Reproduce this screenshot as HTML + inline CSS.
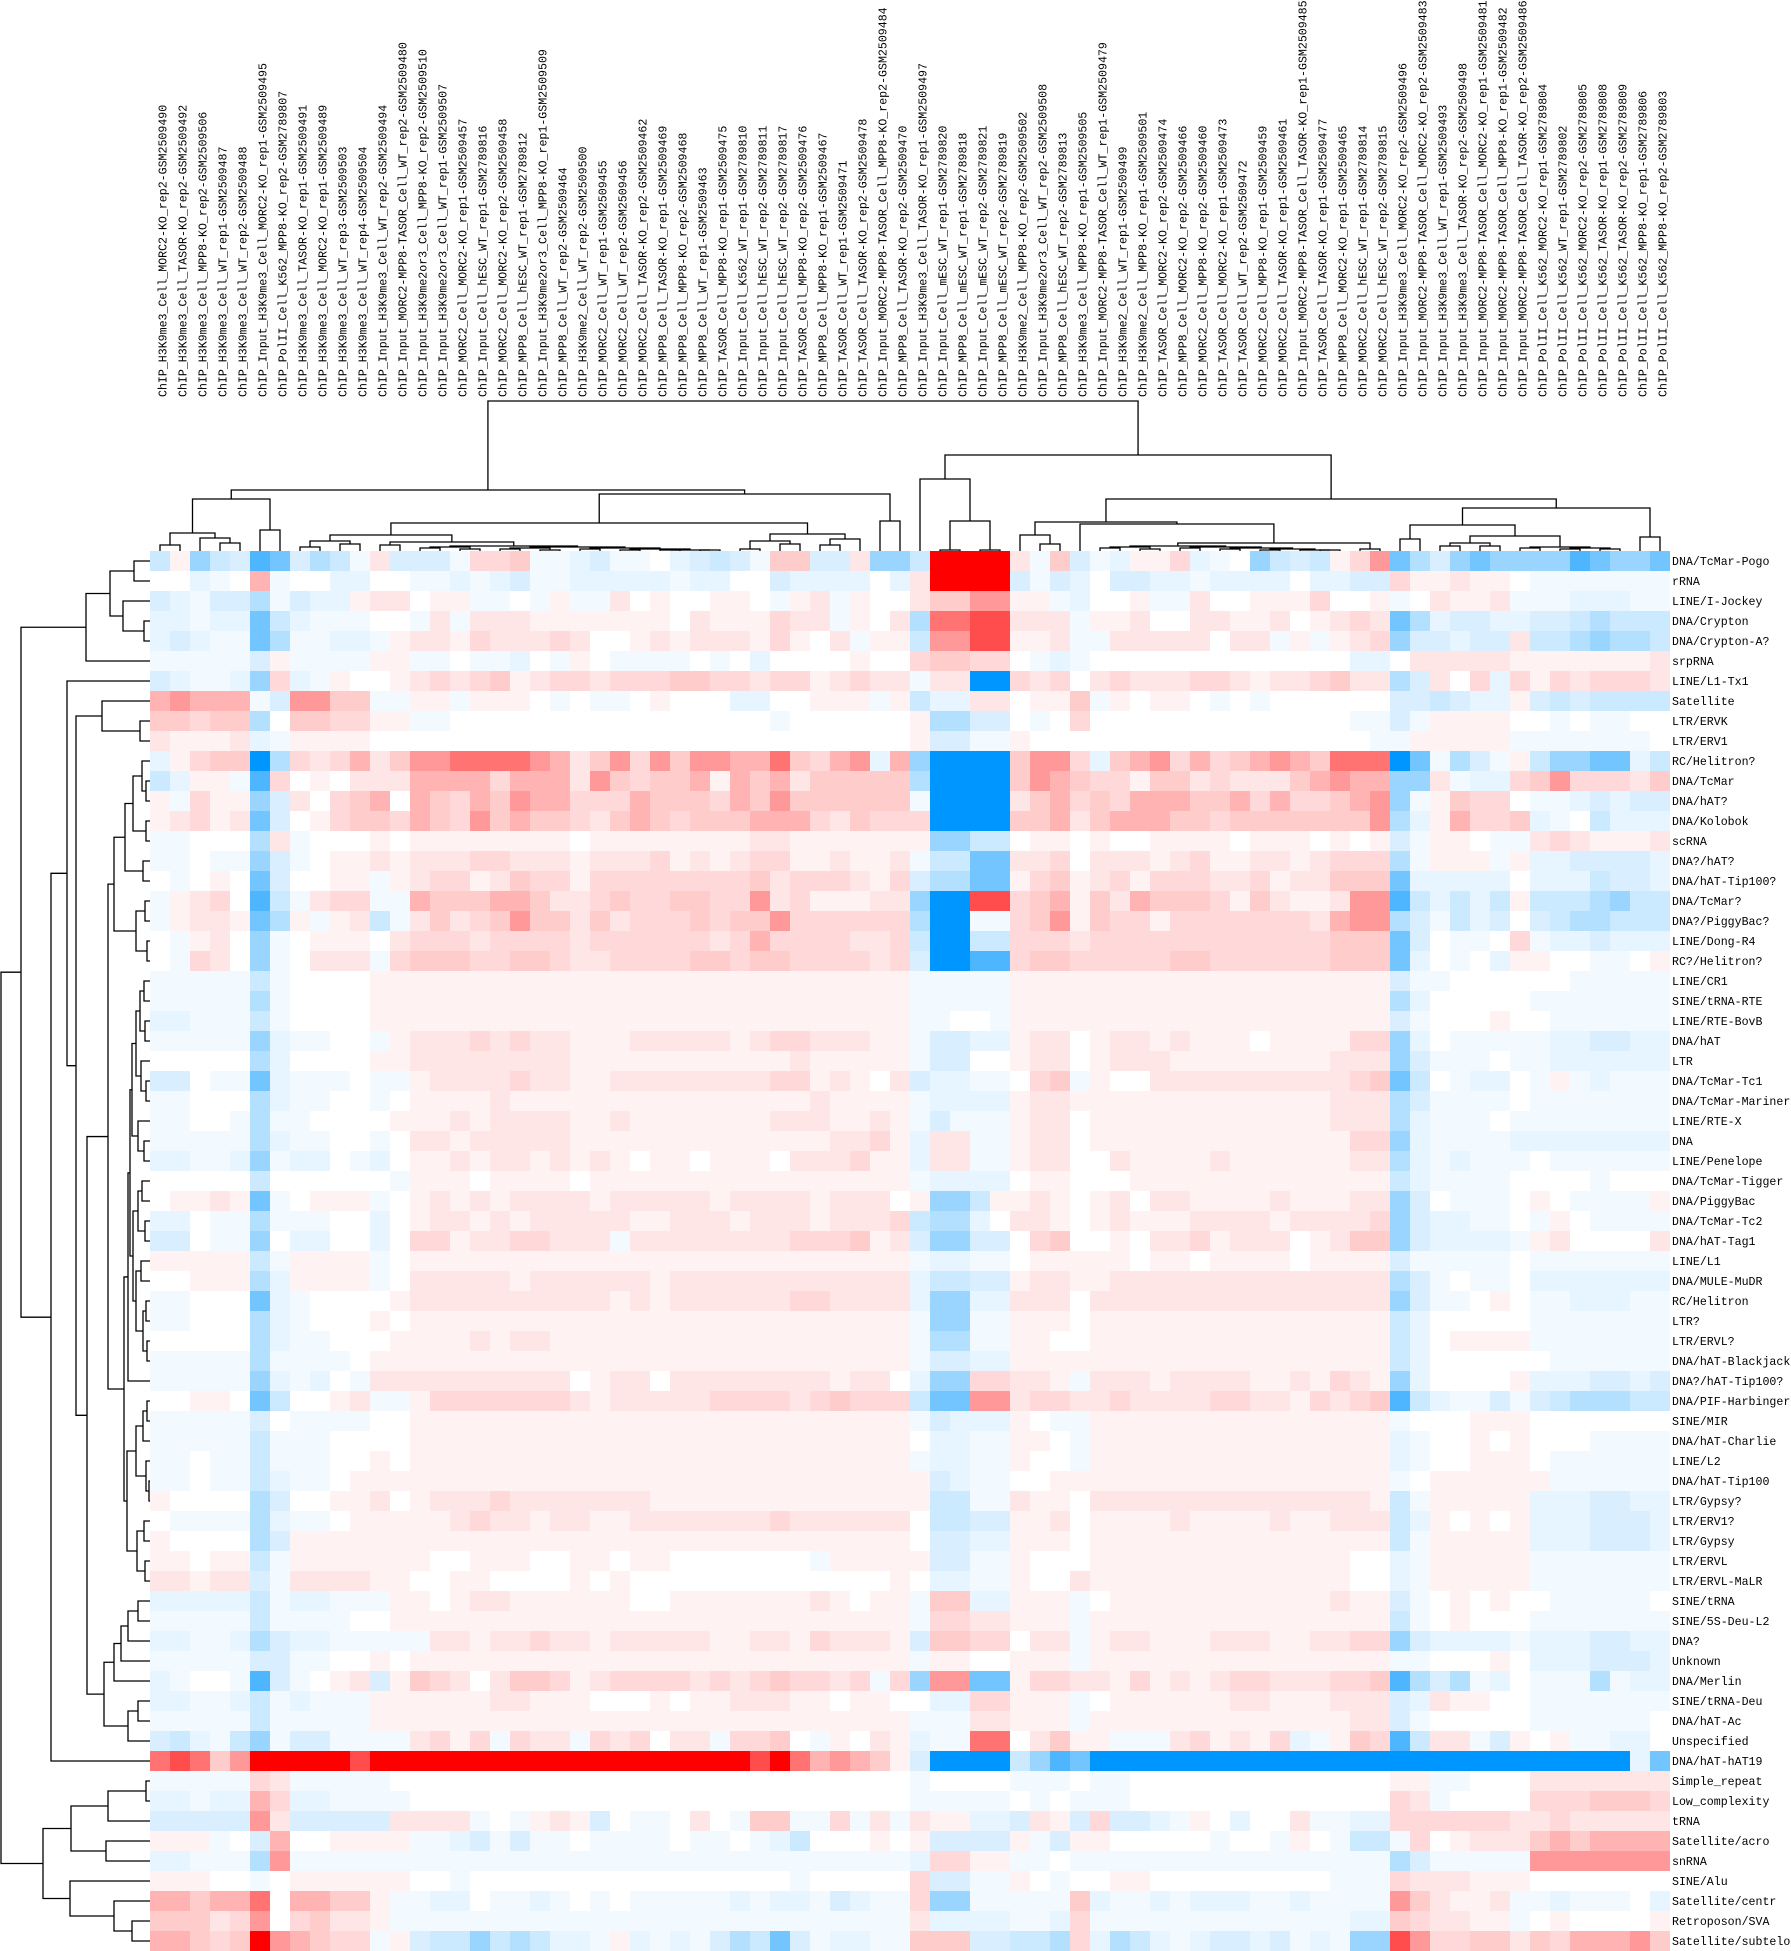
<!DOCTYPE html>
<html><head><meta charset="utf-8"><style>
html,body{margin:0;padding:0;background:#fff;}
svg{display:block;}
text{font-family:"Liberation Mono",monospace;font-size:11.6px;fill:#000;}
</style></head><body>
<svg id="chart" width="1791" height="1951" viewBox="0 0 1791 1951" xmlns="http://www.w3.org/2000/svg">
<g id="cells" shape-rendering="crispEdges"></g>
<g id="coldendro" fill="none" stroke="#000" stroke-width="1.3"></g>
<g id="rowdendro" fill="none" stroke="#000" stroke-width="1.3"></g>
<g id="collabels"></g>
<g id="rowlabels"></g>
</svg>
<script>
const columnLabels = ["ChIP_H3K9me3_Cell_MORC2-KO_rep2-GSM2509490","ChIP_H3K9me3_Cell_TASOR-KO_rep2-GSM2509492","ChIP_H3K9me3_Cell_MPP8-KO_rep2-GSM2509506","ChIP_H3K9me3_Cell_WT_rep1-GSM2509487","ChIP_H3K9me3_Cell_WT_rep2-GSM2509488","ChIP_Input_H3K9me3_Cell_MORC2-KO_rep1-GSM2509495","ChIP_PolII_Cell_K562_MPP8-KO_rep2-GSM2789807","ChIP_H3K9me3_Cell_TASOR-KO_rep1-GSM2509491","ChIP_H3K9me3_Cell_MORC2-KO_rep1-GSM2509489","ChIP_H3K9me3_Cell_WT_rep3-GSM2509503","ChIP_H3K9me3_Cell_WT_rep4-GSM2509504","ChIP_Input_H3K9me3_Cell_WT_rep2-GSM2509494","ChIP_Input_MORC2-MPP8-TASOR_Cell_WT_rep2-GSM2509480","ChIP_Input_H3K9me2or3_Cell_MPP8-KO_rep2-GSM2509510","ChIP_Input_H3K9me2or3_Cell_WT_rep1-GSM2509507","ChIP_MORC2_Cell_MORC2-KO_rep1-GSM2509457","ChIP_Input_Cell_hESC_WT_rep1-GSM2789816","ChIP_MORC2_Cell_MORC2-KO_rep2-GSM2509458","ChIP_MPP8_Cell_hESC_WT_rep1-GSM2789812","ChIP_Input_H3K9me2or3_Cell_MPP8-KO_rep1-GSM2509509","ChIP_MPP8_Cell_WT_rep2-GSM2509464","ChIP_H3K9me2_Cell_WT_rep2-GSM2509500","ChIP_MORC2_Cell_WT_rep1-GSM2509455","ChIP_MORC2_Cell_WT_rep2-GSM2509456","ChIP_MORC2_Cell_TASOR-KO_rep2-GSM2509462","ChIP_MPP8_Cell_TASOR-KO_rep1-GSM2509469","ChIP_MPP8_Cell_MPP8-KO_rep2-GSM2509468","ChIP_MPP8_Cell_WT_rep1-GSM2509463","ChIP_TASOR_Cell_MPP8-KO_rep1-GSM2509475","ChIP_Input_Cell_K562_WT_rep1-GSM2789810","ChIP_Input_Cell_hESC_WT_rep2-GSM2789811","ChIP_Input_Cell_hESC_WT_rep2-GSM2789817","ChIP_TASOR_Cell_MPP8-KO_rep2-GSM2509476","ChIP_MPP8_Cell_MPP8-KO_rep1-GSM2509467","ChIP_TASOR_Cell_WT_rep1-GSM2509471","ChIP_TASOR_Cell_TASOR-KO_rep2-GSM2509478","ChIP_Input_MORC2-MPP8-TASOR_Cell_MPP8-KO_rep2-GSM2509484","ChIP_MPP8_Cell_TASOR-KO_rep2-GSM2509470","ChIP_Input_H3K9me3_Cell_TASOR-KO_rep1-GSM2509497","ChIP_Input_Cell_mESC_WT_rep1-GSM2789820","ChIP_MPP8_Cell_mESC_WT_rep1-GSM2789818","ChIP_Input_Cell_mESC_WT_rep2-GSM2789821","ChIP_MPP8_Cell_mESC_WT_rep2-GSM2789819","ChIP_H3K9me2_Cell_MPP8-KO_rep2-GSM2509502","ChIP_Input_H3K9me2or3_Cell_WT_rep2-GSM2509508","ChIP_MPP8_Cell_hESC_WT_rep2-GSM2789813","ChIP_H3K9me3_Cell_MPP8-KO_rep1-GSM2509505","ChIP_Input_MORC2-MPP8-TASOR_Cell_WT_rep1-GSM2509479","ChIP_H3K9me2_Cell_WT_rep1-GSM2509499","ChIP_H3K9me2_Cell_MPP8-KO_rep1-GSM2509501","ChIP_TASOR_Cell_MORC2-KO_rep2-GSM2509474","ChIP_MPP8_Cell_MORC2-KO_rep2-GSM2509466","ChIP_MORC2_Cell_MPP8-KO_rep2-GSM2509460","ChIP_TASOR_Cell_MORC2-KO_rep1-GSM2509473","ChIP_TASOR_Cell_WT_rep2-GSM2509472","ChIP_MORC2_Cell_MPP8-KO_rep1-GSM2509459","ChIP_MORC2_Cell_TASOR-KO_rep1-GSM2509461","ChIP_Input_MORC2-MPP8-TASOR_Cell_TASOR-KO_rep1-GSM2509485","ChIP_TASOR_Cell_TASOR-KO_rep1-GSM2509477","ChIP_MPP8_Cell_MORC2-KO_rep1-GSM2509465","ChIP_MORC2_Cell_hESC_WT_rep1-GSM2789814","ChIP_MORC2_Cell_hESC_WT_rep2-GSM2789815","ChIP_Input_H3K9me3_Cell_MORC2-KO_rep2-GSM2509496","ChIP_Input_MORC2-MPP8-TASOR_Cell_MORC2-KO_rep2-GSM2509483","ChIP_Input_H3K9me3_Cell_WT_rep1-GSM2509493","ChIP_Input_H3K9me3_Cell_TASOR-KO_rep2-GSM2509498","ChIP_Input_MORC2-MPP8-TASOR_Cell_MORC2-KO_rep1-GSM2509481","ChIP_Input_MORC2-MPP8-TASOR_Cell_MPP8-KO_rep1-GSM2509482","ChIP_Input_MORC2-MPP8-TASOR_Cell_TASOR-KO_rep2-GSM2509486","ChIP_PolII_Cell_K562_MORC2-KO_rep1-GSM2789804","ChIP_PolII_Cell_K562_WT_rep1-GSM2789802","ChIP_PolII_Cell_K562_MORC2-KO_rep2-GSM2789805","ChIP_PolII_Cell_K562_TASOR-KO_rep1-GSM2789808","ChIP_PolII_Cell_K562_TASOR-KO_rep2-GSM2789809","ChIP_PolII_Cell_K562_MPP8-KO_rep1-GSM2789806","ChIP_PolII_Cell_K562_MPP8-KO_rep2-GSM2789803"];

const rowLabels = ["DNA/TcMar-Pogo","rRNA","LINE/I-Jockey","DNA/Crypton","DNA/Crypton-A?","srpRNA","LINE/L1-Tx1","Satellite","LTR/ERVK","LTR/ERV1","RC/Helitron?","DNA/TcMar","DNA/hAT?","DNA/Kolobok","scRNA","DNA?/hAT?","DNA/hAT-Tip100?","DNA/TcMar?","DNA?/PiggyBac?","LINE/Dong-R4","RC?/Helitron?","LINE/CR1","SINE/tRNA-RTE","LINE/RTE-BovB","DNA/hAT","LTR","DNA/TcMar-Tc1","DNA/TcMar-Mariner","LINE/RTE-X","DNA","LINE/Penelope","DNA/TcMar-Tigger","DNA/PiggyBac","DNA/TcMar-Tc2","DNA/hAT-Tag1","LINE/L1","DNA/MULE-MuDR","RC/Helitron","LTR?","LTR/ERVL?","DNA/hAT-Blackjack","DNA?/hAT-Tip100?","DNA/PIF-Harbinger","SINE/MIR","DNA/hAT-Charlie","LINE/L2","DNA/hAT-Tip100","LTR/Gypsy?","LTR/ERV1?","LTR/Gypsy","LTR/ERVL","LTR/ERVL-MaLR","SINE/tRNA","SINE/5S-Deu-L2","DNA?","Unknown","DNA/Merlin","SINE/tRNA-Deu","DNA/hAT-Ac","Unspecified","DNA/hAT-hAT19","Simple_repeat","Low_complexity","tRNA","Satellite/acro","snRNA","SINE/Alu","Satellite/centr","Retroposon/SVA","Satellite/subtelo"];

// value codes: '0' = 0; A..I = positive levels 1..9; a..i = negative levels 1..9
const levelValues = [0, 0.05, 0.1, 0.15, 0.2, 0.3, 0.4, 0.55, 0.7, 1.0];

// left half = columns 1-38, right half = columns 39-76
const valuesLeft = [
"dAfdchgcedaBcccaCCDaabcaa0bcdcaDDccBff","00ba0Ea00bb00aababcaabbbbbabb00cbbbb0b","cbacceacbbABB0AAaa0aAaaB0A00AA0aABaA00","bbabbgdbaaa00aBaBBBAAAAAAA0BAAACBBaA0B","bcbaageaabbaABBACBBBCB00ABABBBACA0BaAA","aaaaacAaaaaAAaa0aab0aA0aaaa0a0b0000A00","cbaabfCbaA00ABCBCDABCCBCCCDDCCBCCABCBB","EFEEEacFFDDaaAAaAAA0a0aa0A000bb00AAAaA","DDCDDe0DDCCAAaa0000000000000000a000000","BAAABbaAAAA000000000000000000000000000",
"bACDDieCBCEBDFFGGGGFEBDFCFDFFEEGDCEFbE","dbAAahC0A0BBBEEEECEEEBFDCDDEAEDEBDDDDD","AaCAAfcB0CDE0EDCEDFEECCCEDDDCEDFDDDDDD","ABCABgc0ACDDCEDCFDEDDCBDEDCDDDEEECBDCC","aa000eBa000A0AAAAAAAA0AAAAAAAABBAAAAAA","aa0aafca0AABABBBCCBBBABBBCABABCCAABAAB","0a0A0gc00AAaABCCABDCCACCCCCCCCDBCCCBAC","aABC0hdaBCCaaEDDDEEDBBCDCCDDCCFBCAAABB","aABBAgeAaABdaBDBCDFDDBDBCCCDCDDFCCCCCC","0aAB0fa0AAA0BCCCBCCCCBCCCCCCBCECCCCBBC",
"0aCB0fa0BBBaCDDDCCDDCBBCCCCDDCDDCCCCBC","aaaaada0000AAAAAAAAAAAAAAAAAAAAAAAAAAA","aaaaaea0000AAAAAAAAAAAAAAAAAAAAAAAAAAA","bbaaada0000AAAAAAAAAAAAAAAAAAAAAAAAAAA","aaaaafbaa00aABBBCBCBBAAABBBBBABCCBBBAA","00000eb0000AABBBBBBBBAAAAAAAAAAABAAAAA","cc0aagbaaa0aaABBBBCBBAABBBBBBBBCCABA0B","aa000ebaa00a0AAAABAAAAAAAAAAAAAAABAAAA","aa00aeaa0000AAABABBBBAABAAAAAAABBBAABA","aaaaaebaa00a0BBABBBBBAAAAAAAAAAAAABBCA",
"bbaabfabb0ab0AABABBABABA0AA0AAA0BBBCAA","00000d000000aAAA0AAAA0AAAAAAAAAAAAAAAA","0AABAga0AAAa0ABABABBBBABBBBBABBBBABBB0","bb0aaeaaa00b0ABBABABBBBBAABBBABBBABBBC","cc0aaf0bb00b0CCABBCCBBBaBBBBBBBBCCCDAB","AAAAAdaAAAAa0AAAAAAAAAAAAAAAAAAAAAAAAA","00AAAebAAAAa0BBBBBABBBBBBABBBBBBBBBBBB","aa000gba0000ABBBBBBBBBBABABBBBBBCCBBBB","aa000eba000A0AAAAAAAAAAAAAAAAAAAAAAAAA","00000ebaa000AAAABABBAAAAAAAAAAAAAAAAAA",
"aaaaaeaaaa0AAAAAAAAAAAAAAAAAAAAAAAAAAA","aaaaafbab0aBBBBBBBBBB0ABB0BBBBBBBBABB","00AA0gd00ABaaACCCCCCCBABBBBBCCCCBCDCCC","aaaaac0aaaa00AAAAAAAAAAAAAAAAAAAAAAAAA","aaaaadaaa0000AAAAAAAAAAAAAAAAAAAAAAAAA","aa0aadaaa00A0AAAAAAAAAAAAAAAAAAAAAAAAA","aa0aadbaa0AAAAAAAAAAAAAAAAAAAAAAAAAAAA","A0000ec00AAB0ABBBCBBBBBBBAAAAAAAAAAAAA","0aaaaebaa0AAAAABCBBABBAABBBBBBBCBBBBBB","A0000ecAAAAAAAAAAAAAAAAAAAAAAAAAAAAAAA",
"AA0AAdaAAAAAAA00AAA00AA0AA0000000aAAAA","BBABBcaBBBBAA00AA0000A0A0000000000000A","bbbbbdabbaaaAA0ABBAAAAAA00AAAAAAABA0AA","aaaaadaaaa00AAAAAAAAAAAAAAAAAAAAAAAAAA","bbaabecbbaaaaaBBABBCBBABBBBBAABBACBBBA","aaaaaccaa00A0AAAAAAAAAAAAAAAAAAAAAAAAA","ba00ahca0ABcADCB0BDDCABCCCCBCBCDCCBCaC","bbaabdabaaaAAAAAABBAAA000A0AABBBAA0AA0","aaaaadaaaaaAAAAAAAAAAAAAAAAAAAAAAAAAAA","cdbadfaccaaaaBCACaCBBaCBC0BBaCCD0aA0BA",
"GHGDFIIIIIHIIIIIIIIIIIIIIIIIIIHIGEFEDA","aaaaaCBaaaaa00000000000000000000000000","bbabbECbbaaaa0000000000000000000000000","cccccFBcccccBBBBa0aABAc0aa0B0aDDaaCaBa","AAAa0cE00AAAAaabcacaa0aaaa0aa0abd000A0","bbaaaeFaaaaaaaaaaaaaaaaaaaaaaaaaaaaaaa","AAA00a0AAAAAA00a0000000000000000a00000","EEDEEG0EEDDAaabb0aaba0a0aaaaababbacbaa","DDDBCF0CDBBAaaaaaaaaaaaaaaaaaaaaaaaaaa","EEDCDIFEDCCaAcddfdedbbaAbabacedgcabbaa"
];
const valuesRight = [
"dIIIIBaDcabAACba0fdcdACFgecfgffffhgffg","BIIIIcacb0ccbbabbbb0bbccCAABAA0aaaaaaa","BDDFFAAab00AaaB00AAAC00Aa0BAABaaabbbaa","eGGHHBBBaAAB00BBAAB0ABCBgebccbbccdeddd","dFFHHAABaaBBBBB0BBaAaABCfccbccBddefeed","CDDCC0aba0000000000000bb0BBBBBAAAAAAAB","aBBiiCBC0BCBBBCCBABBCDBBecB0CbCACBCCCB","dbbBB0AADaA0AA0a0a000000ccdcbbAcdcdddd","Aeecc0a0C0000000000000aacaAAAA00a0aa00","AccaaA00000000000000000aaAAAAAaaaaaaa0",
"fiiiiDFFCbDEFCECDEFEDGGGigaecaAdffggbd","eiiiiDFEDCCADDBCBBBDEFEEffBabbCDFCCCBD","aiiiiBDECDCEEEDDECECCDEFfaADCC0aabcbcc","CiiiiDDEBDEEEDDCDDDDDDDFebAECCDba0dbbb","Affdd0AA0A00AAAA0AAA0A0AcaAA0aaBCBAAAB","addggBBC0BBBABCAABBABCCCeaAAAaAbbccccb","ceeggACDABCACCCBBCABBDDDgbbbbb0bbbdccb","fiiHHCDEADBEDDDCADBAABFFhdbdbdAdddefdd","eiiaaCDFADCCACCCCCCCBEFFecadbc0cdeeddd","diiddCCCBCCCCCCCCCCCCDDDgc0aa0Cabbcbbb",
"ciihhCDDCCCCCDDCCCCCCDDDgb0a0bAA00aa0A","aaaaaAAAAAAAAAAAAAAAAAAAcaa000000aaaaa","aaaaaAAAAAAAAAAAAAAAAAAAeb00000aaaaaaa","aa00aAAAAAAAAAAAAAAAAAAAca000A00aaaaaa","accbbABB0ABBABAAA0AAAACCfb0aaaaabbccbb","acc00ABB0ABBBAAAAAAAABBBfcaaa0aabbbbbb","cbbaa0CDaA00BBBBBBBBBBCDgd0abb0aAabaaa","abbbbABBAAAAAAAAAAAAABBBecaaaa0aaaaaaa","acaaaABB0AAAAAAAAAAAABBBebaaa0aaaaaaaa","bBBaaABB0AAAAAAAAAAAAACCfbaaaabbbbbbbb",
"bBBaaABB00BAAAABAAAAAABBebabaaa0aaaaaa","abbbb0AA000AAAAAAAAAAAAAdbaaaa0000a000","AffdAABA0AB0BBAAAABAAABBfc0aaa0A0aaaaA","deeb0BBA0ABAAABBBBABBBBCfcbbaa0aA0aaaa","cffcc0CD00A0BBCABBB0ABDDfcbbbbaAB0000B","abbaa0AAAAA0AA0AAAA0AAAAcaaaaa0aaaaaaa","bddccABBAABBBBBBBBBBBBBBeca0aa0bbbbbbb","bffbbBBB0BBBBBBBBBBBBBBBfcaa0A0aabbbaa","affaaAAA0AAAAAAAAAAAAAAAdb00000aaaaaaa","aeeaaAA00AAAAAAAAAAAAAAAdb0AAAAaaaaaaa",
"accbbAAAAAAAAAAAAAAAAAAAdb000000aaaaaa","bffCCBBAaBBBABBBBAABACBAfb0000Abbbccbc","dggFFBCCBBCBBBBCCBBACBCDhdbaacacdeeedd","acbbbA0aaAAAAAAAAAAAAAAAa000AAA0000000","0bbaaAA0aAAAAAAAAAAAAAAAba00A0A000aaaa","abbaaA00aAAAAAAAAAAAAAAAba00AAA0aaaaaa","Acbaa00AAAAAAAAAAAAAAAAAa0AAAAAAaaaaaa","AddaaBAA0BBBBBBBBBBBBBBAdaAAAAAbbbccbb","0ddccAAB0AAAABAAAABAABBBdbA0A0Abbbcccb","0ccbbAAA0AAAAAAAAAAAAAAAdaAAAAAbbbcccb",
"AccaaA000AAAAAAAAAAAAA00baAAAAAaaaaaaa","0bbaaA00BAAAAAAAAAAAAA00baAAAAAaaaaaaa","aDDbbAAAa0AAAAAAAAAAABAAca0A0A00aaaaa0","aCCBBAAAaAAAAAAAAAAAAAAAda0A000aaaaaaa","cDDCC0BBaABBAAABBBAABBCCfcbbbbabbbccbb","aAA00AAAaAAAAAAAAAAAAAAAaa000A0bbbcccb","fFFggACCBBACABABCCBBBCCDheceab0aaaeabb","0bbCCAAAa0AAAAAABBAAABBBcbBAA00aaaaaaa","aaaBBAAAaAAAAAAAAAAAAABBca00000aaaaaa0","baaGG0BDAAaaaBCABACbaADChdBBacA0Aaabb0",
"ciiiidfhgiiiiiiiiiiiiiiiiiiiiiiiiiiibg","a0000aaa0aa0000000000000AAaa000BBBBBBB","aaaaa0a0aaa0000000000000CBa0000CCCDDDC","BAAbbcBAcCccbaA0b00BaabbCCCCCCBBCBBBBB","AccccAacAA00000a00aA0addaC0ABBBDEDEEEE","bCCAAaa0aaaaaaaaaaaaaaaaecaaaaaFFFFFFF","CccaaA0a00AA000000000aaaCBBBAAA0000000","CffaaaaaDbaababbbaabaaaaFDBAABaabaaa0b","BbbbbaabCaaaaaaaaaaaaabbDCBBAAa0A0000A","DDDccddeCbedbabccbcabaffHFCCDDBDCEEEFD"
];

// dendrogram linkage: [mergeHeight, left, right]; leaves are 1-based indices
const colTree = [401,
 [490,
  [499, [533, [545,1,2], [538,3,[543,4,5]]], [530,6,7]],
  [494,
   [523,
    [535,
     [541,[547,8,9],[544,10,11]],
     [542,[545,12,13],[546,[547,[548,14,15],[549,16,17]],[547,[548,[549,18,19],[550,20,21]],[548,[549,22,23],[549,[550,24,25],[550,[550,26,27],[550,28,29]]]]]]]],
    [534,[541,[549,30,31],[544,32,33]],[539,[545,34,35],36]]],
   [521,37,38]]],
 [455,
  [479,39,[521,[550,40,41],[550,42,43]]],
  [499,
   [522,[535,44,[544,45,46]],[524,47,[543,[546,[547,[548,48,49],[549,50,51]],[547,[548,52,53],[548,[549,54,55],[549,[550,56,57],[550,58,[550,59,60]]]]]],[549,61,62]]]],
   [508,[525,[539,63,64],[536,[543,[546,65,66],[546,67,68]],[547,[548,69,70],[548,[549,71,72],[549,73,74]]]]],[537,75,76]]]]];

const rowTree = [1,
 [21,
  [86,[110,[134,1,2],[123,3,[144,4,5]]],6],
  [51,
   [67,7,
    [76,
     [102,8,[140,9,10]],
     [87,
      [108,
       [114,[125,[133,[142,11,[146,12,13]],[146,14,15]],[143,16,17]],[136,[145,18,19],[147,20,21]]],
       [124,
        [128,[130,[132,[136,[140,[144,22,23],[145,24,25]],[141,26,[146,27,28]]],[138,29,[144,30,31]]],[133,[138,[142,32,33],[145,34,35]],[136,[141,36,37],[143,[146,38,39],[147,40,41]]]]],42],
        [127,[136,[143,[147,43,44],45],[146,46,[149,47,48]]],[137,[144,49,50],[145,51,52]]]]],
      [104,[114,[121,[128,[138,53,54],55],56],57],[128,[138,58,59],60]]]]],
   61]],
 [43,
  [71,[108,[146,62,63],64],[106,65,66]],
  [70,67,[114,68,[132,69,70]]]]];

const X0 = 150, Y0 = 551, CELL = 20, NCOL = 76, NROW = 70;
const svgNS = "http://www.w3.org/2000/svg";
const xScale = c => X0 + c * CELL;
const yScale = r => Y0 + r * CELL;

function decode(ch) {
  if (ch >= 'A' && ch <= 'I') return levelValues[ch.charCodeAt(0) - 64];
  if (ch >= 'a' && ch <= 'i') return -levelValues[ch.charCodeAt(0) - 96];
  return 0;
}
function half(s) { s = (s || ""); while (s.length < 38) s += "0"; return s.slice(0, 38); }
function color(v) {
  const t = Math.min(1, Math.abs(v));
  if (v >= 0) { const g = Math.round(255 * (1 - t)); return `rgb(255,${g},${g})`; }
  const r = Math.round(255 * (1 - t)), g = Math.round(255 - 105 * t);
  return `rgb(${r},${g},255)`;
}

const cellsG = document.getElementById('cells');
for (let r = 0; r < NROW; r++) {
  const codes = half(valuesLeft[r]) + half(valuesRight[r]);
  for (let c = 0; c < NCOL; c++) {
    const v = decode(codes[c]);
    const rect = document.createElementNS(svgNS, 'rect');
    rect.setAttribute('x', xScale(c));
    rect.setAttribute('y', yScale(r));
    rect.setAttribute('width', CELL);
    rect.setAttribute('height', CELL);
    rect.setAttribute('fill', color(v));
    
    
    cellsG.appendChild(rect);
  }
}

function addPath(g, d, name) {
  const p = document.createElementNS(svgNS, 'path');
  p.setAttribute('d', d);
  
  
  g.appendChild(p);
}

const cg = document.getElementById('coldendro');
function colNode(n) {
  if (typeof n === 'number') return { x: xScale(n - 1) + CELL / 2, y: Y0 };
  const a = colNode(n[1]), b = colNode(n[2]), h = n[0];
  addPath(cg, `M${a.x},${a.y}V${h}H${b.x}V${b.y}`, 'column-dendrogram-link');
  return { x: (a.x + b.x) / 2, y: h };
}
colNode(colTree);

const rg = document.getElementById('rowdendro');
function rowNode(n) {
  if (typeof n === 'number') return { x: X0, y: yScale(n - 1) + CELL / 2 };
  const a = rowNode(n[1]), b = rowNode(n[2]), h = n[0];
  addPath(rg, `M${a.x},${a.y}H${h}V${b.y}H${b.x}`, 'row-dendrogram-link');
  return { x: h, y: (a.y + b.y) / 2 };
}
rowNode(rowTree);

const clg = document.getElementById('collabels');
columnLabels.forEach((t, i) => {
  const el = document.createElementNS(svgNS, 'text');
  const x = xScale(i) + CELL / 2 + 6.5, y = 397;
  el.setAttribute('transform', `translate(${x},${y}) rotate(-90)`);
  el.textContent = t;
  
  
  clg.appendChild(el);
});
const rlg = document.getElementById('rowlabels');
rowLabels.forEach((t, i) => {
  const el = document.createElementNS(svgNS, 'text');
  el.setAttribute('x', 1672);
  el.setAttribute('y', yScale(i) + CELL / 2 + 4);
  el.textContent = t;
  
  
  rlg.appendChild(el);
});
</script>
</body></html>
